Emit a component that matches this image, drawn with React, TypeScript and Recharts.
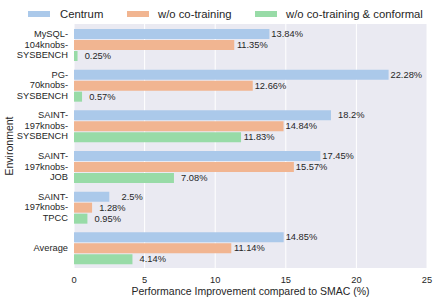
import React from "react";
import { BarChart, Bar, XAxis, YAxis, CartesianGrid, LabelList, Label } from "recharts";

const FONT = '"Liberation Sans", Arial, Helvetica, sans-serif';
const INK = "#262626";

const categories = [
  "MySQL-\n104knobs-\nSYSBENCH",
  "PG-\n70knobs-\nSYSBENCH",
  "SAINT-\n197knobs-\nSYSBENCH",
  "SAINT-\n197knobs-\nJOB",
  "SAINT-\n197knobs-\nTPCC",
  "Average",
];
const centrum = [13.84, 22.28, 18.2, 17.45, 2.5, 14.85];
const noCoTraining = [11.35, 12.66, 14.84, 15.57, 1.28, 11.14];
const noCoTrainingConformal = [0.25, 0.57, 11.83, 7.08, 0.95, 4.14];
const xTicks = [0, 5, 10, 15, 20, 25];

const series = [
  { key: "centrum", name: "Centrum", color: "#abc9ea" },
  { key: "noCo", name: "w/o co-training", color: "#f1b591" },
  { key: "noCoConf", name: "w/o co-training & conformal", color: "#98dba7" },
];

const data = categories.map((name, i) => ({
  name,
  centrum: centrum[i],
  noCo: noCoTraining[i],
  noCoConf: noCoTrainingConformal[i],
}));

function CatTick(props: any) {
  const { x, y, payload } = props;
  const lines = String(payload.value).split("\n");
  const lh = 10.5;
  const start = -((lines.length - 1) / 2) * lh;
  return (
    <text x={x} y={y} textAnchor="end" fill={INK} fontSize={9.3} fontFamily={FONT}>
      {lines.map((l, i) => (
        <tspan key={i} x={x} dy={i === 0 ? start + 3.3 : lh}>
          {l}
        </tspan>
      ))}
    </text>
  );
}

function ValueLabel(props: any) {
  const { x, y, width, height, value } = props;
  return (
    <text
      x={x + width + 33.5}
      y={y + height / 2}
      textAnchor="end"
      dominantBaseline="central"
      fill={INK}
      fontSize={9.3}
      fontFamily={FONT}
    >
      {value}%
    </text>
  );
}

function LegendBox() {
  const items = [
    { left: 28, textLeft: 60 },
    { left: 127, textLeft: 158 },
    { left: 255, textLeft: 286 },
  ];
  return (
    <>
      {series.map((s, i) => (
        <React.Fragment key={s.key}>
          <div
            style={{
              position: "absolute",
              left: items[i].left,
              top: 11,
              width: 22,
              height: 6,
              background: s.color,
            }}
          />
          <div
            style={{
              position: "absolute",
              left: items[i].textLeft,
              top: 6,
              fontSize: 11.3,
              lineHeight: "16px",
              fontFamily: FONT,
              color: INK,
              whiteSpace: "nowrap",
            }}
          >
            {s.name}
          </div>
        </React.Fragment>
      ))}
    </>
  );
}

export default function App() {
  return (
    <div style={{ position: "absolute", left: 0, top: 0, width: 436, height: 301, background: "#fff" }}>
      <BarChart
        width={436}
        height={301}
        data={data}
        layout="vertical"
        margin={{ top: 24, right: 9, left: 0, bottom: 0 }}
        barCategoryGap={5}
        barGap={1}
      >
        <CartesianGrid horizontal={false} stroke="#ffffff" strokeWidth={1} fill="#eaeaf2" fillOpacity={1} />
        <XAxis
          type="number"
          domain={[0, 25]}
          ticks={xTicks}
          axisLine={false}
          tickLine={false}
          height={33}
          tick={{ fontSize: 9.3, fill: INK, fontFamily: FONT }}
        >
          <Label
            value="Performance Improvement compared to SMAC (%)"
            position="insideBottom"
            offset={6}
            style={{ fontSize: 10.5, fill: INK, fontFamily: FONT }}
          />
        </XAxis>
        <YAxis
          type="category"
          dataKey="name"
          width={74}
          axisLine={false}
          tickLine={false}
          tickMargin={0}
          interval={0}
          tick={<CatTick />}
        >
          <Label
            content={() => (
              <text
                x={9}
                y={146}
                transform="rotate(-90 9 146)"
                textAnchor="middle"
                dominantBaseline="central"
                fontSize={10.5}
                fill={INK}
                fontFamily={FONT}
              >
                Environment
              </text>
            )}
          />
        </YAxis>
        {series.map((s) => (
          <Bar key={s.key} dataKey={s.key} name={s.name} fill={s.color} isAnimationActive={false}>
            <LabelList dataKey={s.key} content={<ValueLabel />} />
          </Bar>
        ))}
      </BarChart>
      <LegendBox />
    </div>
  );
}
